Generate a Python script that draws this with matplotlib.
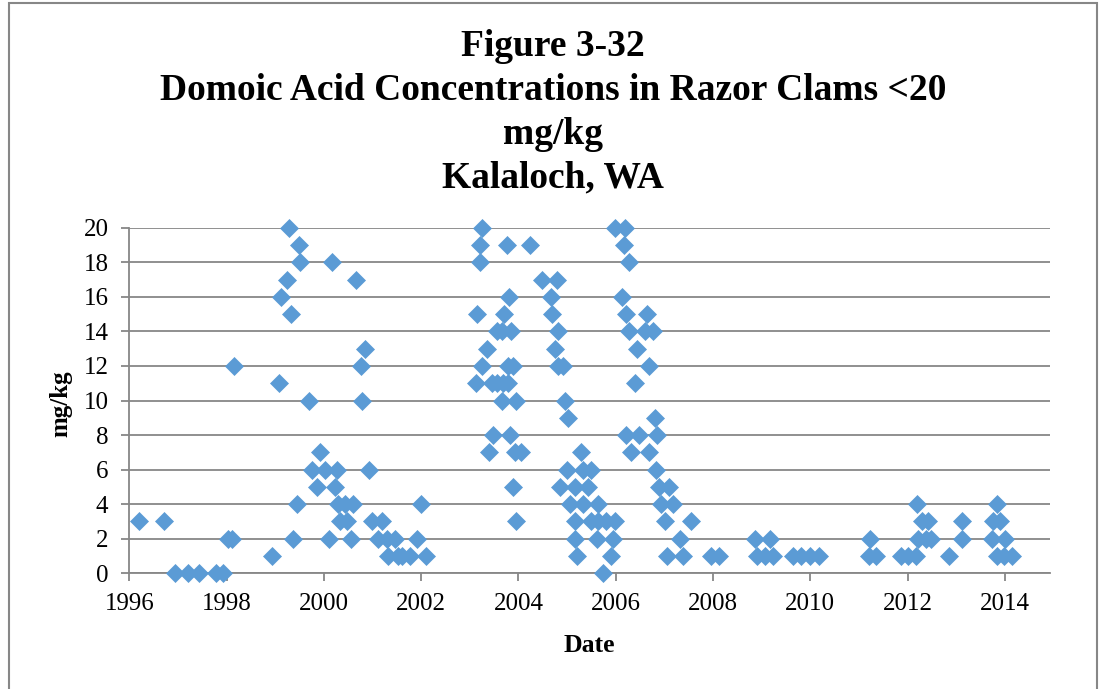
import matplotlib.pyplot as plt
from matplotlib.patches import Rectangle

# Sample dates (decimal years) and domoic acid results (mg/kg), Kalaloch razor clams.
SAMPLE_YEAR = [
    1996.20, 1996.72, 1996.95, 1997.21, 1997.43, 1997.78, 1997.93, 1998.03, 1998.11, 1998.16,
    1998.94, 1999.08, 1999.12, 1999.24, 1999.28, 1999.32, 1999.36, 1999.44, 1999.49, 1999.51,
    1999.69, 1999.76, 1999.86, 1999.93, 2000.03, 2000.10, 2000.17, 2000.23, 2000.28, 2000.30,
    2000.33, 2000.43, 2000.47, 2000.55, 2000.60, 2000.67, 2000.76, 2000.79, 2000.84, 2000.92,
    2000.98, 2001.12, 2001.20, 2001.29, 2001.32, 2001.46, 2001.53, 2001.60, 2001.77, 2001.91,
    2001.99, 2002.11,
    2003.12, 2003.14, 2003.22, 2003.22, 2003.26, 2003.26, 2003.35, 2003.39, 2003.45, 2003.47,
    2003.55, 2003.56, 2003.66, 2003.67, 2003.69, 2003.71, 2003.76, 2003.79, 2003.79, 2003.80,
    2003.83, 2003.84, 2003.88, 2003.89, 2003.93, 2003.96, 2003.96, 2004.05, 2004.24, 2004.48,
    2004.67, 2004.70, 2004.75, 2004.79, 2004.82, 2004.82, 2004.85, 2004.92, 2004.96, 2004.99,
    2005.02, 2005.06, 2005.16, 2005.16, 2005.16, 2005.20, 2005.28, 2005.33, 2005.33, 2005.43,
    2005.50, 2005.50, 2005.61, 2005.64, 2005.64, 2005.74, 2005.81, 2005.90, 2005.95, 2005.98,
    2005.98, 2006.14, 2006.17, 2006.19, 2006.22, 2006.22, 2006.27, 2006.27, 2006.31, 2006.39,
    2006.43, 2006.48, 2006.60, 2006.64, 2006.68, 2006.68, 2006.77, 2006.81, 2006.83, 2006.84,
    2006.89, 2006.94, 2007.01, 2007.05, 2007.10, 2007.18, 2007.32, 2007.39, 2007.55,
    2007.95, 2008.13, 2008.86, 2008.90, 2009.07, 2009.17, 2009.24, 2009.65, 2009.82, 2009.99,
    2010.18, 2011.21, 2011.22, 2011.36, 2011.86, 2012.01, 2012.17, 2012.19, 2012.22, 2012.29,
    2012.38, 2012.42, 2012.49, 2012.85, 2013.13, 2013.13, 2013.73, 2013.76, 2013.83, 2013.83,
    2013.90, 2013.98, 2014.00, 2014.14,
]
DOMOIC_ACID = [
    3, 3, 0, 0, 0, 0, 0, 2, 2, 12,
    1, 11, 16, 17, 20, 15, 2, 4, 19, 18,
    10, 6, 5, 7, 6, 2, 18, 5, 6, 4,
    3, 4, 3, 2, 4, 17, 12, 10, 13, 6,
    3, 2, 3, 2, 1, 2, 1, 1, 1, 2,
    4, 1,
    11, 15, 19, 18, 20, 12, 13, 7, 11, 8,
    11, 14, 14, 10, 11, 15, 19, 11, 12, 16,
    8, 14, 5, 12, 7, 10, 3, 7, 19, 17,
    16, 15, 13, 17, 14, 12, 5, 12, 10, 6,
    9, 4, 5, 3, 2, 1, 7, 6, 4, 5,
    6, 3, 2, 4, 3, 0, 3, 1, 2, 3,
    20, 16, 19, 20, 15, 8, 18, 14, 7, 11,
    13, 8, 14, 15, 12, 7, 14, 9, 6, 8,
    5, 4, 3, 1, 5, 4, 2, 1, 3,
    1, 1, 2, 1, 1, 2, 1, 1, 1, 1,
    1, 1, 2, 1, 1, 1, 1, 4, 2, 3,
    2, 3, 2, 1, 3, 2, 2, 3, 4, 1,
    3, 1, 2, 1,
]
YEAR_TICKS = list(range(1996, 2015, 2))
CONC_TICKS = list(range(0, 21, 2))

TITLE_LINES = [
    "Figure 3-32",
    "Domoic Acid Concentrations in Razor Clams <20",
    "mg/kg",
    "Kalaloch, WA",
]

BLUE = "#5B9BD5"
GRID = "#878787"

plt.rcParams["font.family"] = ["Liberation Serif", "DejaVu Serif"]

fig = plt.figure(figsize=(11.06, 6.89), dpi=100)
ax = fig.add_axes([0.1169, 0.1679, 0.8325, 0.5016])

ax.plot(SAMPLE_YEAR, DOMOIC_ACID, ls="none", marker="D", ms=8.8,
        color=BLUE, mec=BLUE, mew=0.5, clip_on=False, zorder=3)

ax.set_xlim(1996, 2014.93)
ax.set_ylim(0, 20)
ax.set_xticks(YEAR_TICKS)
ax.set_yticks(CONC_TICKS)
ax.yaxis.grid(True, color=GRID, lw=1.3)
ax.set_axisbelow(True)

for side in ("top", "right"):
    ax.spines[side].set_visible(False)
for side in ("left", "bottom"):
    ax.spines[side].set_color(GRID)
    ax.spines[side].set_linewidth(1.3)

ax.tick_params(axis="both", direction="out", length=6, width=1.3, color=GRID,
               labelsize=18, labelcolor="black")
ax.tick_params(axis="x", pad=8)
ax.tick_params(axis="y", pad=9)

ax.set_xlabel("Date", fontsize=18.5, fontweight="bold")
ax.xaxis.set_label_coords(0.5, -0.175)
ax.set_ylabel("mg/kg", fontsize=18, fontweight="bold")
ax.yaxis.set_label_coords(-0.062, 0.49)

for line, base_px in zip(TITLE_LINES, (56, 100, 144, 187)):
    fig.text(0.5, 1 - base_px / 689, line, ha="center", va="baseline",
             fontsize=27, fontweight="bold")

# Chart-area frame (runs off the bottom edge of the image)
fig.patches.append(Rectangle((8.5 / 1106, -0.05), 1088 / 1106, 1.05 - 3 / 689,
                             transform=fig.transFigure, fill=False,
                             edgecolor=GRID, lw=1.5))

fig.savefig("out.png", dpi=100)
